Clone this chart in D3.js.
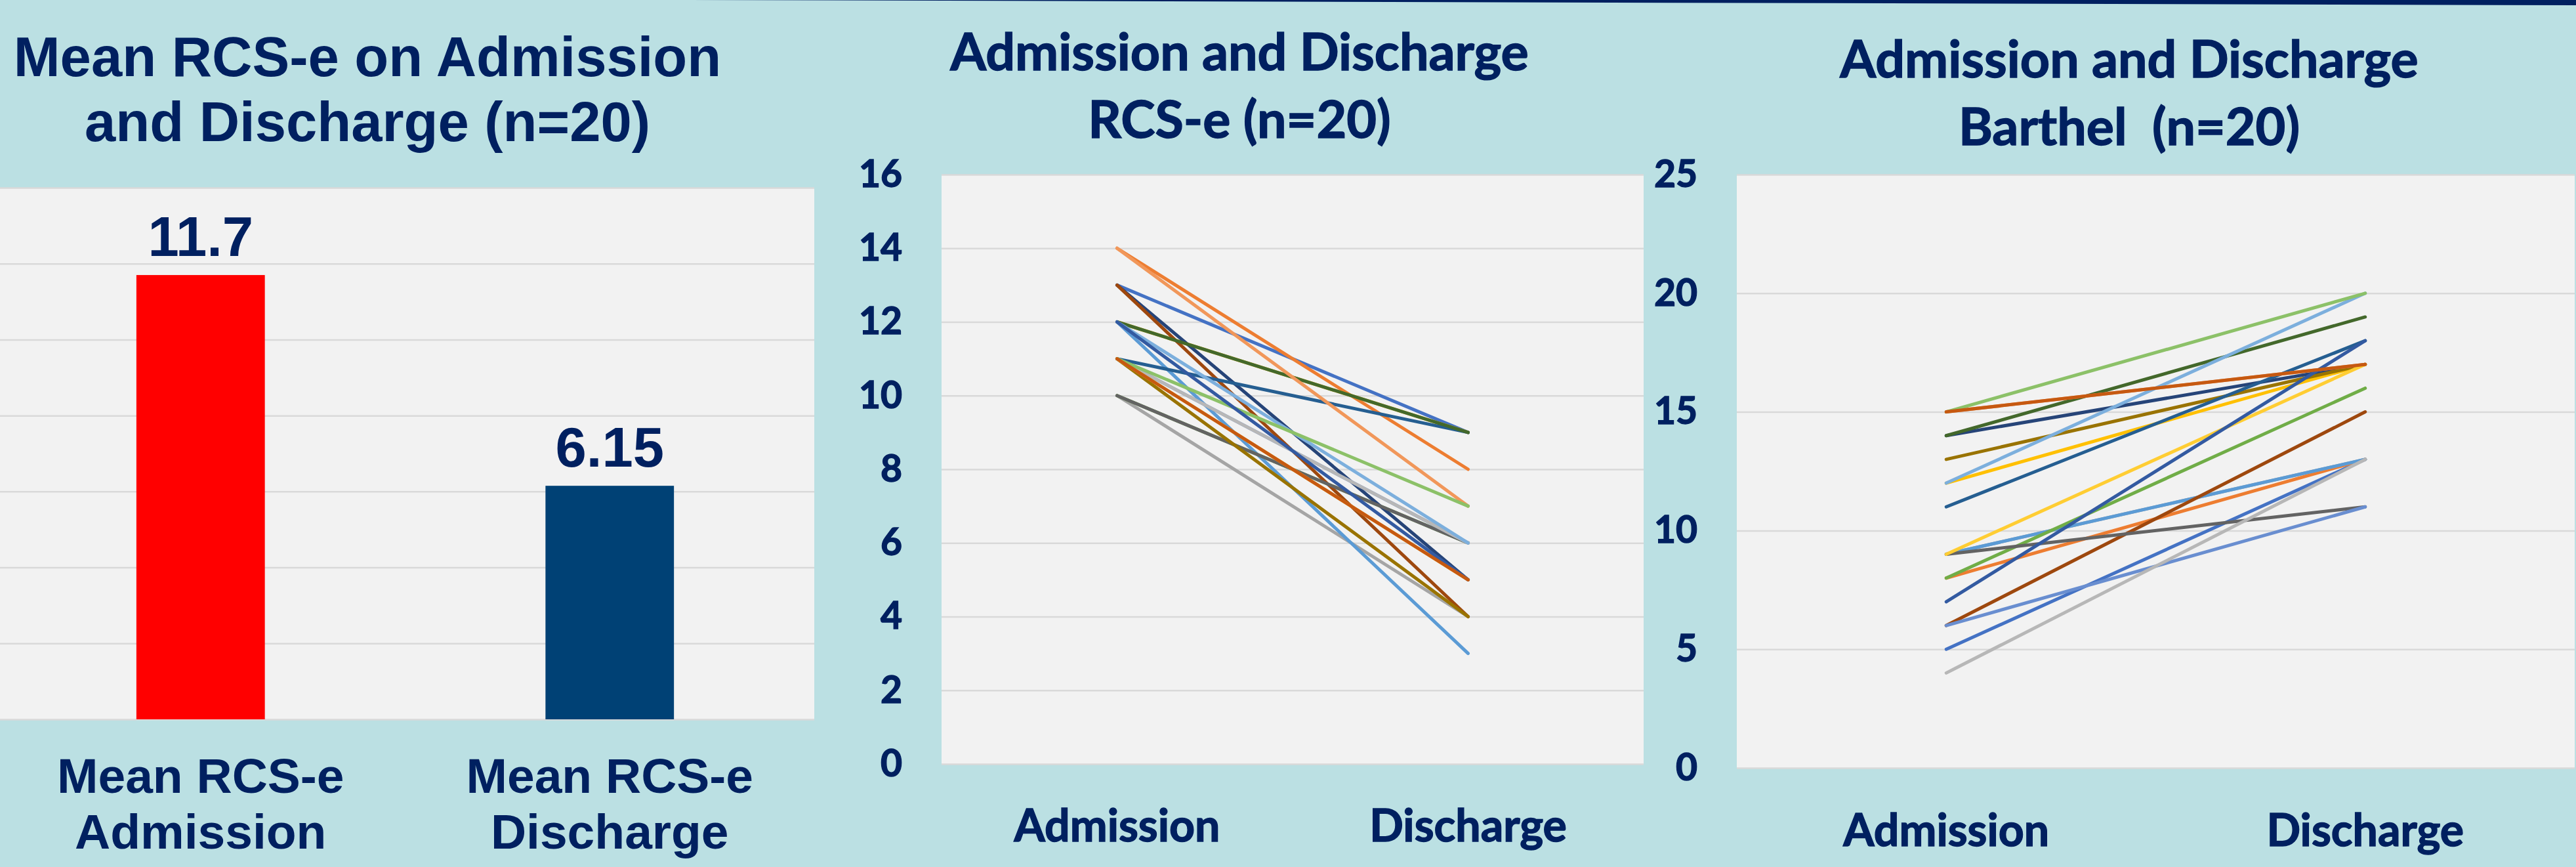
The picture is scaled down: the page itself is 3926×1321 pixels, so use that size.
<!DOCTYPE html>
<html>
<head>
<meta charset="utf-8">
<script src="https://cdn.jsdelivr.net/npm/d3@7"></script>
<style>
  body { margin: 0; background: #bbe0e3; }
  svg { display: block; }
</style>
</head>
<body>
<div class="chart"></div>
<script>
// Data
//= ================================

// left panel: mean RCS-e bar chart
var barCategories = ["Mean RCS-e Admission", "Mean RCS-e Discharge"];
var barCategoryLines = [["Mean RCS-e", "Admission"], ["Mean RCS-e", "Discharge"]];
var barValues = [11.7, 6.15];
var barLabels = ["11.7", "6.15"];
var barColors = ["#ff0000", "#004175"];
var barTicks = [0, 2, 4, 6, 8, 10, 12, 14];

// the two time points used by both line charts
var timepoints = ["Admission", "Discharge"];

// one colour per patient (Excel series order)
var seriesColors = [
  "#4472c4", "#ed7d31", "#a5a5a5", "#ffc000", "#5b9bd5",
  "#70ad47", "#264478", "#9e480e", "#636363", "#997300",
  "#255e91", "#43682b", "#698ed0", "#f1975a", "#b7b7b7",
  "#ffcd33", "#7cafdd", "#8cc168", "#335aa1", "#c65911"
];

// middle panel: RCS-e per patient
var rcsAdmission = [13, 14, 10, 12, 12, 10, 13, 13, 10, 11, 11, 12, 11, 14, 11, 11, 12, 11, 12, 11];
var rcsDischarge = [9, 8, 4, 9, 3, 6, 5, 4, 6, 4, 9, 9, 6, 7, 6, 5, 6, 7, 5, 5];
var rcsTicks = [0, 2, 4, 6, 8, 10, 12, 14, 16];

// right panel: Barthel per patient
var barthelAdmission = [5, 8, 9, 12, 9, 8, 14, 6, 9, 13, 11, 14, 6, 15, 4, 9, 12, 15, 7, 15];
var barthelDischarge = [13, 13, 13, 17, 13, 16, 17, 15, 11, 17, 18, 19, 11, 17, 13, 17, 20, 20, 18, 17];
var barthelTicks = [0, 5, 10, 15, 20, 25];

var svgWidth = 3926;
var svgHeight = 1321;

var navy = "#002060";
var plotFill = "#f2f2f2";
var gridColor = "#d9d9d9";
var arial = "'Liberation Sans', Arial, sans-serif";
var calibri = "Lato, 'Open Sans', sans-serif";

var svg = d3.select(".chart")
  .append("svg")
  .attr("width", svgWidth)
  .attr("height", svgHeight);

svg.append("rect")
  .attr("width", svgWidth)
  .attr("height", svgHeight)
  .attr("fill", "#bbe0e3");

// thin navy wedge along the top edge
svg.append("polygon")
  .attr("points", "1050,0 3926,0 3926,8")
  .attr("fill", navy);

// draws the grey plot box and its horizontal gridlines
function drawPlotArea(box, yScale, ticks) {
  var g = svg.append("g");
  g.append("rect")
    .attr("x", box.left)
    .attr("y", box.top)
    .attr("width", box.right - box.left)
    .attr("height", box.bottom - box.top)
    .attr("fill", plotFill);

  var grid = g.append("g")
    .attr("transform", `translate(${box.left},0)`)
    .call(d3.axisLeft(yScale).tickValues(ticks).tickSize(-(box.right - box.left)).tickFormat(""));
  grid.select(".domain").remove();
  grid.selectAll("line")
    .attr("stroke", gridColor)
    .attr("stroke-width", 2.5);
  return g;
}

// Lato is a touch lighter than the Calibri bold in the picture, so thicken it a little
function heavy(sel, font) {
  if (font === calibri) {
    sel.attr("stroke", navy).attr("stroke-width", 1.4).attr("paint-order", "stroke");
  }
  return sel;
}

// multi-line centred title
function drawTitle(lines, cx, baselines, font, size) {
  lines.forEach(function (line, i) {
    var t = svg.append("text")
      .attr("x", cx)
      .attr("y", baselines[i])
      .attr("text-anchor", "middle")
      .attr("font-family", font)
      .attr("font-weight", "bold")
      .attr("font-size", size)
      .attr("fill", navy)
      .style("white-space", "pre")
      .text(line);
    heavy(t, font);
  });
}

// Panel 1: bar chart
//= ================================
var box1 = { left: -6, right: 1241, top: 286, bottom: 1096 };

var y1 = d3.scaleLinear().domain([0, 14]).range([box1.bottom, box1.top]);
var x1 = d3.scaleBand()
  .domain(barCategories)
  .range([box1.left, box1.right])
  .paddingInner(0.686)
  .paddingOuter(0.343);

var plot1 = drawPlotArea(box1, y1, barTicks);

plot1.selectAll(".bar")
  .data(barValues)
  .enter()
  .append("rect")
  .attr("class", "bar")
  .attr("x", function (d, i) { return x1(barCategories[i]); })
  .attr("y", function (d) { return y1(d); })
  .attr("width", x1.bandwidth())
  .attr("height", function (d) { return y1(0) - y1(d); })
  .attr("fill", function (d, i) { return barColors[i]; });

plot1.selectAll(".bar-label")
  .data(barValues)
  .enter()
  .append("text")
  .attr("class", "bar-label")
  .attr("x", function (d, i) { return x1(barCategories[i]) + x1.bandwidth() / 2; })
  .attr("y", function (d) { return y1(d) - 29; })
  .attr("text-anchor", "middle")
  .attr("font-family", arial)
  .attr("font-weight", "bold")
  .attr("font-size", 85)
  .attr("fill", navy)
  .text(function (d, i) { return barLabels[i]; });

barCategoryLines.forEach(function (lines, i) {
  var cx = x1(barCategories[i]) + x1.bandwidth() / 2;
  lines.forEach(function (line, j) {
    svg.append("text")
      .attr("x", cx)
      .attr("y", 1208 + j * 85)
      .attr("text-anchor", "middle")
      .attr("font-family", arial)
      .attr("font-weight", "bold")
      .attr("font-size", 75)
      .attr("fill", navy)
      .text(line);
  });
});

drawTitle(["Mean RCS-e on Admission", "and Discharge (n=20)"], 560, [116, 215], arial, 85);

// Panels 2 and 3: slope charts
//= ================================
function drawSlopeChart(box, domainMax, ticks, admission, discharge, catBaseline) {
  var y = d3.scaleLinear().domain([0, domainMax]).range([box.bottom, box.top]);
  var x = d3.scalePoint().domain(timepoints).range([box.left, box.right]).padding(0.5);

  var plot = drawPlotArea(box, y, ticks);

  var yAxis = svg.append("g")
    .attr("transform", `translate(${box.left},0)`)
    .call(d3.axisLeft(y).tickValues(ticks).tickSize(0).tickPadding(60));
  yAxis.select(".domain").remove();
  heavy(yAxis.selectAll("text")
    .attr("font-family", calibri)
    .attr("font-weight", "bold")
    .attr("font-size", 57)
    .attr("fill", navy), calibri);

  var line = d3.line()
    .x(function (d) { return x(d.t); })
    .y(function (d) { return y(d.v); });

  var patients = admission.map(function (a, i) {
    return [{ t: timepoints[0], v: a }, { t: timepoints[1], v: discharge[i] }];
  });

  plot.selectAll(".patient")
    .data(patients)
    .enter()
    .append("path")
    .attr("class", "patient")
    .attr("d", line)
    .attr("fill", "none")
    .attr("stroke", function (d, i) { return seriesColors[i]; })
    .attr("stroke-width", 5)
    .attr("stroke-linecap", "round")
    .attr("stroke-linejoin", "round");

  heavy(svg.selectAll(null)
    .data(timepoints)
    .enter()
    .append("text")
    .attr("x", function (d) { return x(d); })
    .attr("y", catBaseline)
    .attr("text-anchor", "middle")
    .attr("font-family", calibri)
    .attr("font-weight", "bold")
    .attr("font-size", 68)
    .attr("fill", navy)
    .text(function (d) { return d; }), calibri);
}

drawSlopeChart({ left: 1435, right: 2505, top: 266, bottom: 1164 }, 16, rcsTicks,
  rcsAdmission, rcsDischarge, 1282);
drawTitle(["Admission and Discharge", "RCS-e (n=20)"], 1889, [107, 210], calibri, 79);

drawSlopeChart({ left: 2647, right: 3924, top: 266, bottom: 1170 }, 25, barthelTicks,
  barthelAdmission, barthelDischarge, 1289);
drawTitle(["Admission and Discharge", "Barthel  (n=20)"], 3245, [118, 221], calibri, 79);
</script>
</body>
</html>
